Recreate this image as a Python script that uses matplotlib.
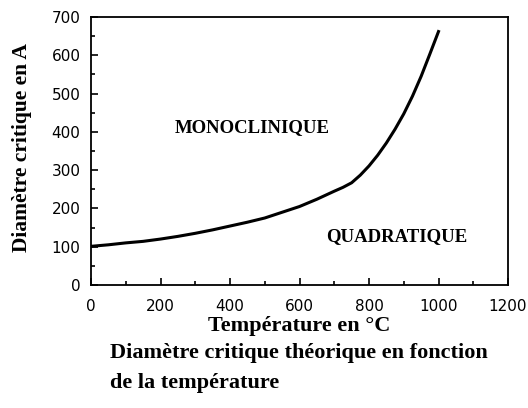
import matplotlib
matplotlib.use("Agg")
import matplotlib.pyplot as plt
from matplotlib.ticker import MultipleLocator

# critical diameter vs temperature
temperature = [0, 50, 100, 150, 200, 250, 300, 350, 400, 450, 500, 550, 600, 650,
               700, 725, 750, 775, 800, 825, 850, 875, 900, 925, 950, 975, 1000]
diameter = [101, 105, 110, 114, 120, 127, 135, 144, 154, 164, 175, 190, 205, 224,
            245, 255, 267, 287, 311, 339, 371, 407, 447, 493, 545, 603, 662]

serif = "Liberation Serif"

fig = plt.figure(figsize=(5.28, 4.08), dpi=100)
ax = fig.add_axes([91 / 528, 1 - 285 / 408, 417 / 528, 268 / 408])

ax.plot(temperature, diameter, color="black", linewidth=2.2)

ax.set_xlim(0, 1200)
ax.set_ylim(0, 700)
ax.xaxis.set_major_locator(MultipleLocator(200))
ax.xaxis.set_minor_locator(MultipleLocator(100))
ax.yaxis.set_major_locator(MultipleLocator(100))
ax.yaxis.set_minor_locator(MultipleLocator(50))
ax.tick_params(which="both", direction="in", top=False, right=False, width=1.2)
ax.tick_params(which="major", length=5, labelsize=11)
ax.tick_params(axis="x", which="major", pad=10)
ax.tick_params(axis="y", which="major", pad=7.5)
ax.tick_params(which="minor", length=3)
for s in ax.spines.values():
    s.set_linewidth(1.3)

ax.text(463, 412, "MONOCLINIQUE", family=serif, fontweight="bold", fontsize=13.5,
        ha="center", va="center")
ax.text(880, 127, "QUADRATIQUE", family=serif, fontweight="bold", fontsize=13.5,
        ha="center", va="center")

ax.set_xlabel("Température en °C", family=serif, fontweight="bold", fontsize=16, va="center")
ax.xaxis.set_label_coords(0.5, -0.153)
ax.set_ylabel("Diamètre critique en A", family=serif, fontweight="bold", fontsize=15.5,
              va="center")
ax.yaxis.set_label_coords(-0.165, 0.513)

fig.text(110 / 528, 1 - 353 / 408, "Diamètre critique théorique en fonction",
         family=serif, fontweight="bold", fontsize=16, ha="left", va="center")
fig.text(110 / 528, 1 - 383 / 408, "de la température",
         family=serif, fontweight="bold", fontsize=16, ha="left", va="center")

fig.savefig("out.png", dpi=100)
